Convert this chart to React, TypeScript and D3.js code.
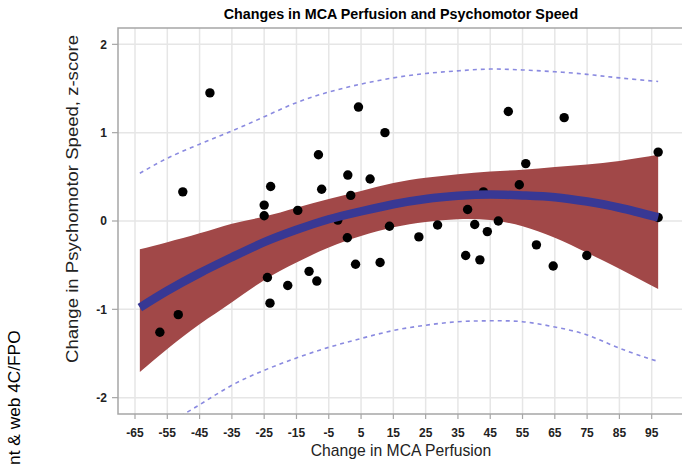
import React from 'react';
import * as d3 from 'd3';

// observed subjects: change in MCA perfusion vs change in psychomotor speed (z)
const perfusionChange = [
  -57.3, -51.6, -50.2, -41.8, -25.0, -25.0, -24.0, -23.2, -23.0, -17.7, -14.6,
  -11.1, -8.7, -8.2, -7.2, -2.2, 0.75, 0.9, 1.8, 3.3, 4.2, 7.8, 10.9, 12.4, 13.8,
  22.9, 28.7, 37.4, 38.0, 40.2, 41.8, 42.9, 44.1, 47.5, 50.6, 54.0, 56.0, 59.3,
  64.5, 67.9, 74.9, 97.0, 97.0,
];
const speedChange = [
  -1.26, -1.06, 0.33, 1.45, 0.18, 0.06, -0.64, -0.93, 0.39, -0.73, 0.12,
  -0.57, -0.68, 0.75, 0.36, 0.01, -0.19, 0.52, 0.29, -0.49, 1.29, 0.475, -0.47, 1.0, -0.06,
  -0.18, -0.045, -0.39, 0.13, -0.04, -0.44, 0.33, -0.12, 0.0, 1.24, 0.41, 0.65, -0.27,
  -0.51, 1.17, -0.39, 0.78, 0.04,
];

// fitted curve, confidence band and prediction limits
const fitX = [-63.5, -55, -45, -35, -25, -15, -5, 5, 15, 25, 35, 45, 55, 65, 75, 85, 97];
const fitY = [-0.98, -0.79, -0.59, -0.41, -0.24, -0.1, 0.02, 0.11, 0.19, 0.25, 0.285, 0.3, 0.29, 0.27, 0.22, 0.15, 0.04];
const clUpper = [-0.32, -0.24, -0.14, -0.03, 0.05, 0.15, 0.25, 0.34, 0.43, 0.49, 0.53, 0.56, 0.58, 0.61, 0.64, 0.68, 0.75];
const clLower = [-1.71, -1.45, -1.17, -0.92, -0.67, -0.47, -0.3, -0.17, -0.07, -0.01, 0.02, 0.01, -0.06, -0.19, -0.36, -0.54, -0.77];
const predUpper = [0.54, 0.71, 0.87, 1.02, 1.18, 1.34, 1.46, 1.55, 1.62, 1.67, 1.7, 1.72, 1.71, 1.69, 1.66, 1.62, 1.58];
const predLower = [-2.5, -2.3, -2.08, -1.86, -1.69, -1.55, -1.43, -1.33, -1.24, -1.18, -1.14, -1.13, -1.14, -1.2, -1.29, -1.44, -1.59];

const xTicks = [-65, -55, -45, -35, -25, -15, -5, 5, 15, 25, 35, 45, 55, 65, 75, 85, 95];
const yTicks = [-2, -1, 0, 1, 2];

const width = 682;
const height = 465;
const plot = { left: 118, top: 28, right: 692, bottom: 414 };

export default function App() {
  const xScale = d3.scaleLinear().domain([-65, 95]).range([135, 651.7]);
  const yScale = d3.scaleLinear().domain([-2.185, 2.185]).range([plot.bottom, plot.top]);

  const idx = fitX.map((_, i) => i);

  const band = d3.area<number>()
    .x(i => xScale(fitX[i]))
    .y0(i => yScale(clLower[i]))
    .y1(i => yScale(clUpper[i]))
    .curve(d3.curveNatural);

  const lineOf = (vals: number[]) => d3.line<number>()
    .x(i => xScale(fitX[i]))
    .y(i => yScale(vals[i]))
    .curve(d3.curveNatural)(idx);

  const font = 'Arial, "Liberation Sans", Helvetica, sans-serif';

  return (
    <svg
      width={width}
      height={height}
      style={{ position: 'absolute', left: 0, top: 0, background: '#fff' }}
      fontFamily={font}
    >
      <defs>
        <clipPath id="plotArea">
          <rect x={plot.left} y={plot.top} width={plot.right - plot.left} height={plot.bottom - plot.top} />
        </clipPath>
      </defs>

      {/* grid */}
      <g stroke="#e6e6e6" strokeWidth={1.5}>
        {xTicks.map(t => (
          <line key={'gx' + t} x1={xScale(t)} x2={xScale(t)} y1={plot.top} y2={plot.bottom} />
        ))}
        {yTicks.map(t => (
          <line key={'gy' + t} x1={plot.left} x2={plot.right} y1={yScale(t)} y2={yScale(t)} />
        ))}
      </g>

      <g clipPath="url(#plotArea)">
        <path d={band(idx) || ''} fill="#a14848" />
        <path d={lineOf(predUpper) || ''} fill="none" stroke="#8a8ae0" strokeWidth={1.6} strokeDasharray="4,4" />
        <path d={lineOf(predLower) || ''} fill="none" stroke="#8a8ae0" strokeWidth={1.6} strokeDasharray="4,4" />
        {perfusionChange.map((p, i) => (
          <circle key={i} cx={xScale(p)} cy={yScale(speedChange[i])} r={4.7} fill="#000" />
        ))}
        <path d={lineOf(fitY) || ''} fill="none" stroke="#383894" strokeWidth={8.5} />
      </g>

      {/* frame */}
      <rect
        x={plot.left}
        y={plot.top}
        width={plot.right - plot.left}
        height={plot.bottom - plot.top}
        fill="none"
        stroke="#a6a6a6"
        strokeWidth={1.5}
      />

      {/* y axis */}
      <g>
        {yTicks.map(t => (
          <g key={'ty' + t}>
            <line x1={plot.left - 6} x2={plot.left} y1={yScale(t)} y2={yScale(t)} stroke="#a6a6a6" strokeWidth={1.2} />
            <text x={107} y={yScale(t)} dy="0.36em" textAnchor="end" fontSize={12} fontWeight="bold" fill="#222">
              {t}
            </text>
          </g>
        ))}
      </g>

      {/* x axis */}
      <g>
        {xTicks.map(t => (
          <g key={'tx' + t}>
            <line x1={xScale(t)} x2={xScale(t)} y1={plot.bottom} y2={plot.bottom + 5} stroke="#a6a6a6" strokeWidth={1.2} />
            <text x={xScale(t)} y={437} textAnchor="middle" fontSize={12} fontWeight="bold" fill="#222">
              {t}
            </text>
          </g>
        ))}
      </g>

      <text x={401} y={19} textAnchor="middle" fontSize={14.3} fontWeight="bold" fill="#000">
        Changes in MCA Perfusion and Psychomotor Speed
      </text>
      <text x={401} y={456} textAnchor="middle" fontSize={15.7} fill="#222">
        Change in MCA Perfusion
      </text>
      <text
        transform="translate(78,199) rotate(-90)"
        textAnchor="middle"
        fontSize={16}
        fill="#222"
        textLength={328}
        lengthAdjust="spacingAndGlyphs"
      >
        Change in Psychomotor Speed, z-score
      </text>
      <text transform="translate(20,486) rotate(-90)" fontSize={17.3} fill="#000">
        Print &amp; web 4C/FPO
      </text>
    </svg>
  );
}
